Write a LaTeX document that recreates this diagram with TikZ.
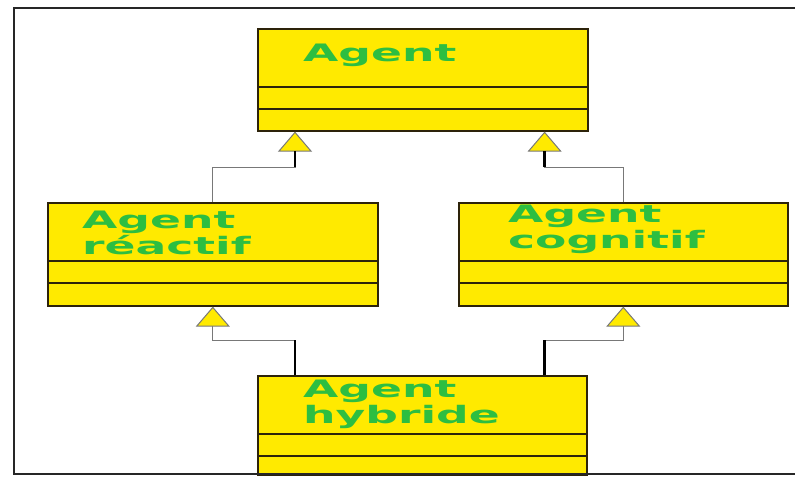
\documentclass[tikz,border=0pt]{standalone}
\usepackage{fontspec}
\usetikzlibrary{arrows.meta}
\newfontfamily\umlfont{DejaVu Sans}[FakeStretch=1.9]
\definecolor{umlyellow}{RGB}{255,234,0}
\definecolor{umlgreen}{RGB}{45,190,65}
\definecolor{umlline}{RGB}{45,35,10}
\definecolor{umlgray}{RGB}{120,120,120}
\newcommand{\gen}{-{Triangle[width=34pt,length=20pt,fill=umlyellow]}}

\begin{document}
\begin{tikzpicture}[x=1pt,y=-1pt,
  umlbox/.style={draw=umlline,line width=1.6pt,fill=umlyellow,inner sep=0pt,anchor=north west},
  umlname/.style={text=umlgreen,font=\umlfont\bfseries\fontsize{24}{26}\selectfont,align=left,anchor=base west,inner sep=0pt},
  umldiv/.style={draw=umlline,line width=1.4pt},
  umllink/.style={draw=umlgray,line width=1pt},
  umlstem/.style={draw=black,line width=2.6pt}]
\useasboundingbox (0,0) rectangle (795,477);
%base class
\node[umlbox,minimum width=330pt,minimum height=102pt] (agent) at (257,28) {};
\node[umlname] (agent-name) at (303,61) {Agent};
%subclasses (anchor is the baseline of the last line)
\node[umlbox,minimum width=330pt,minimum height=103pt] (react) at (47,202) {};
\node[umlname] (react-name) at (82,254) {Agent\\r\'eactif};
\node[umlbox,minimum width=329pt,minimum height=103pt] (cogn) at (458,202) {};
\node[umlname] (cogn-name) at (508,248) {Agent\\cognitif};
\node[umlbox,minimum width=329pt,minimum height=99pt] (hybr) at (257,375) {};
\node[umlname] (hybr-name) at (303,423) {Agent\\hybride};
%attribute and operation compartments
\foreach \c in {agent,react,cogn,hybr} {
  \draw[umldiv] ([yshift=-59pt]\c.north west) -- ([yshift=-59pt]\c.north east);
  \draw[umldiv] ([yshift=-81pt]\c.north west) -- ([yshift=-81pt]\c.north east);
}
%inheritance links
\coordinate (up-l) at ([xshift=38pt]agent.south west);
\coordinate (up-r) at ([xshift=-44pt]agent.south east);
\coordinate (dn-l) at ([xshift=38pt]hybr.north west);
\coordinate (dn-r) at ([xshift=-43pt]hybr.north east);
\draw[umllink,\gen] (react.north) |- (up-l |- 0,167) -- (up-l);
\draw[umllink,\gen] (cogn.north) |- (up-r |- 0,167) -- (up-r);
\draw[umlstem] (up-l |- 0,167) -- (up-l |- 0,151);
\draw[umlstem] (up-r |- 0,167) -- (up-r |- 0,151);
\draw[umllink,\gen] (dn-l) |- (react.south |- 0,340) -- (react.south);
\draw[umllink,\gen] (dn-r) |- (cogn.south |- 0,340) -- (cogn.south);
\draw[umlstem] (dn-l) -- (dn-l |- 0,340);
\draw[umlstem] (dn-r) -- (dn-r |- 0,340);
%frame
\draw[black!85,line width=2pt] (795,8) -- (14,8) -- (14,474) -- (795,474);
\end{tikzpicture}
\end{document}
